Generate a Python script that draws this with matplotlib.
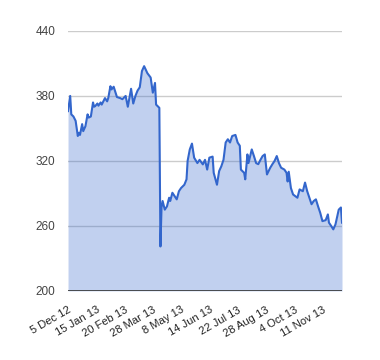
import numpy as np
import matplotlib
matplotlib.use('Agg')
import matplotlib.pyplot as plt

# trading session number (days since 5 Dec 12) and closing price
session = [0, 2, 3, 5, 7, 9, 10, 11, 13, 14, 16, 18, 19, 21, 23, 24, 25, 27, 28, 30,
           31, 33, 34, 36, 37, 39, 40, 42, 44, 45, 48, 50, 53, 55, 58, 60, 62, 64, 66, 68,
           70, 73, 76, 78, 80, 81, 84, 85, 86, 87, 89, 91, 93, 94, 96, 98, 100, 102, 104, 107,
           109, 110, 112, 114, 116, 119, 121, 124, 126, 128, 130, 133, 134, 137, 139, 141, 143, 145, 147, 149,
           151, 154, 156, 158, 159, 162, 163, 165, 166, 169, 171, 173, 175, 177, 179, 181, 183, 186, 188, 190,
           192, 194, 196, 199, 201, 202, 203, 205, 207, 209, 211, 213, 216, 218, 220, 224, 226, 228, 230, 232,
           234, 237, 239, 240, 242, 244, 246, 247, 249, 251, 252]
price = [366, 380, 363, 361, 357, 343, 346, 344, 354, 347.5, 352, 363, 360, 361, 374, 370, 370.6, 373, 371, 374,
         372, 376, 378, 375, 378, 389, 386, 388.5, 382, 379, 378, 377, 380, 370, 386.6, 373, 380, 385, 388, 403,
         407.5, 401, 397, 383, 392, 372, 369, 241, 277, 283, 275, 278, 286, 283, 290.6, 287.5, 284.5, 292, 295, 298,
         303, 320, 330.6, 336, 323, 318, 321, 316.8, 321, 312, 323, 324, 309, 298, 310.6, 315, 321, 337, 340, 337,
         343, 344, 337, 334, 312, 309, 303, 326, 318, 330.6, 324.5, 318, 317, 321, 324.5, 326, 307.5, 313.7, 317, 320,
         324.5, 318, 313.7, 312, 309, 301, 310, 295, 289, 287.5, 286, 293.7, 292, 300, 292, 280, 283, 284.5, 278, 272,
         264.4, 265.3, 270.6, 263, 260, 256.8, 261.4, 266, 275, 277, 263]

tick_sessions = [0, 26, 52, 78, 104, 130, 156, 182, 208, 234]
tick_labels = ['5 Dec 12', '15 Jan 13', '20 Feb 13', '28 Mar 13', '8 May 13',
               '14 Jun 13', '22 Jul 13', '28 Aug 13', '4 Oct 13', '11 Nov 13']
yticks = [200, 260, 320, 380, 440]

plt.rcParams['font.family'] = ['Liberation Sans', 'DejaVu Sans']

fig = plt.figure(figsize=(3.8, 3.6), dpi=100)
ax = fig.add_axes([0.179, 0.192, 0.721, 0.722])

for y in yticks[1:]:
    ax.axhline(y, color='#cccccc', lw=1, zorder=1)
ax.fill_between(session, price, 200, color='#3366cc', alpha=0.3, lw=0, zorder=2)
ax.plot(session, price, color='#3366cc', lw=1.5, zorder=3)
ax.axhline(200, color='#333333', lw=1.2, zorder=4)

ax.set_xlim(0, 252)
ax.set_ylim(200, 440)
ax.set_yticks(yticks)
ax.set_yticklabels([str(v) for v in yticks], fontsize=8.5, color='#444444')
ax.set_xticks(tick_sessions)
ax.set_xticklabels(tick_labels, fontsize=8, color='#222222', rotation=30,
                   ha='right', rotation_mode='anchor')
ax.tick_params(length=0)
ax.tick_params(axis='y', pad=9)
ax.tick_params(axis='x', pad=10)
for s in ax.spines.values():
    s.set_visible(False)

fig.savefig('out.png', dpi=100)
